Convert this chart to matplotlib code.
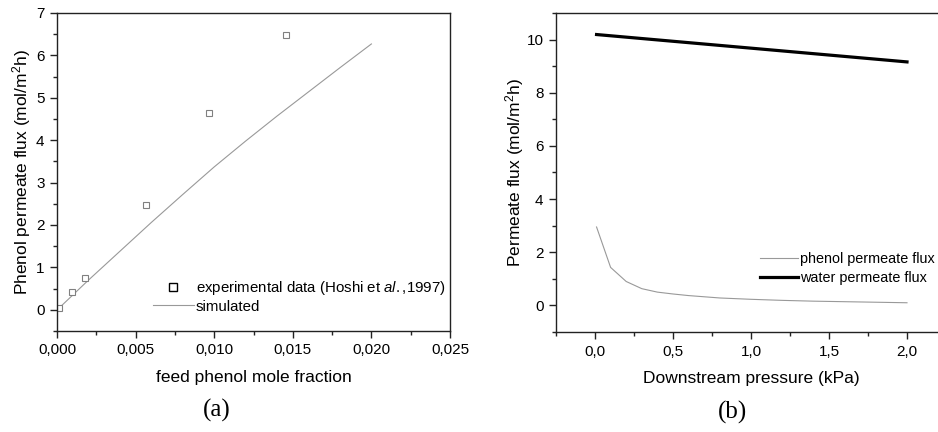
import matplotlib
matplotlib.use("Agg")
import matplotlib.pyplot as plt
from matplotlib.lines import Line2D
from matplotlib.ticker import MultipleLocator, FuncFormatter

# ---- data: panel (a)
exp_x = [0.00013, 0.00098, 0.00178, 0.00565, 0.00968, 0.01456]
exp_y = [0.05, 0.41, 0.75, 2.48, 4.65, 6.47]
sim_x = [0.0001, 0.002, 0.004, 0.006, 0.008, 0.010, 0.012, 0.014, 0.016, 0.018, 0.020]
sim_y = [0.03, 0.70, 1.38, 2.06, 2.72, 3.37, 3.98, 4.57, 5.14, 5.71, 6.27]

# ---- data: panel (b)
p_x = [0.01, 0.1, 0.2, 0.3, 0.4, 0.5, 0.6, 0.8, 1.0, 1.2, 1.4, 1.6, 1.8, 2.0]
phenol_flux = [2.95, 1.43, 0.90, 0.63, 0.50, 0.43, 0.37, 0.28, 0.23, 0.19, 0.16, 0.14, 0.12, 0.10]
water_x = [0.01, 2.0]
water_flux = [10.19, 9.16]

plt.rcParams['font.family'] = ['Liberation Sans', 'DejaVu Sans']
plt.rcParams['mathtext.fontset'] = 'custom'
plt.rcParams['mathtext.rm'] = 'Liberation Sans'
plt.rcParams['mathtext.it'] = 'Liberation Sans:italic'

W, H = 938, 432
fig = plt.figure(figsize=(W / 100, H / 100), dpi=100)

def box(l, r, t, b):
    return [l / W, 1 - b / H, (r - l) / W, (b - t) / H]

spine_c = '#222222'
tick_fs = 11
label_fs = 12.5
leg_fs = 10.8

def style(ax):
    for s in ax.spines.values():
        s.set_linewidth(1.0)
        s.set_color(spine_c)
    ax.tick_params(which='both', direction='out', top=False, right=False,
                   color=spine_c, labelsize=tick_fs, width=1.0)
    ax.tick_params(which='major', length=5, pad=4)
    ax.tick_params(which='minor', length=3)

comma = lambda fmt: FuncFormatter(lambda v, p: (fmt % v).replace('.', ','))

# ---- panel (a)
ax1 = fig.add_axes(box(57, 450, 13, 331))
ax1.plot(sim_x, sim_y, color='#999999', lw=0.8)
ax1.plot(exp_x, exp_y, ls='none', marker='s', ms=4.2, mfc='white',
         mec='#808080', mew=0.8)
ax1.set_xlim(0, 0.025)
ax1.set_ylim(-0.5, 7)
ax1.xaxis.set_major_locator(MultipleLocator(0.005))
ax1.xaxis.set_minor_locator(MultipleLocator(0.0025))
ax1.yaxis.set_major_locator(MultipleLocator(1))
ax1.yaxis.set_minor_locator(MultipleLocator(0.5))
ax1.xaxis.set_major_formatter(comma('%.3f'))
ax1.yaxis.set_major_formatter(FuncFormatter(lambda v, p: '%d' % round(v)))
style(ax1)
ax1.set_xlabel('feed phenol mole fraction', fontsize=label_fs, labelpad=9)
ax1.set_ylabel('Phenol permeate flux (mol/m$^2$h)', fontsize=label_fs, labelpad=2)

h1 = [Line2D([], [], ls='none', marker='s', ms=6, mfc='white', mec='black', mew=1.0),
      Line2D([], [], color='#999999', lw=0.8)]
ax1.legend(h1, ['experimental data (Hoshi et $\\mathit{al.}$,1997)', 'simulated'],
           loc='upper left', bbox_to_anchor=(153 / W, 1 - 279 / H),
           bbox_transform=fig.transFigure, frameon=False, fontsize=leg_fs,
           handlelength=2.7, handletextpad=0.15, labelspacing=0.18,
           borderpad=0, borderaxespad=0)

# ---- panel (b)
ax2 = fig.add_axes(box(556, 946, 13, 332))
ax2.plot(p_x, phenol_flux, color='#999999', lw=0.8, label='phenol permeate flux')
ax2.plot(water_x, water_flux, color='black', lw=2.3, label='water permeate flux')
ax2.set_xlim(-0.25, 2.25)
ax2.set_ylim(-1, 11)
ax2.xaxis.set_major_locator(MultipleLocator(0.5))
ax2.xaxis.set_minor_locator(MultipleLocator(0.25))
ax2.yaxis.set_major_locator(MultipleLocator(2))
ax2.yaxis.set_minor_locator(MultipleLocator(1))
ax2.xaxis.set_major_formatter(comma('%.1f'))
ax2.yaxis.set_major_formatter(FuncFormatter(lambda v, p: '%d' % round(v)))
style(ax2)
ax2.set_xlabel('Downstream pressure (kPa)', fontsize=label_fs, labelpad=9)
ax2.set_ylabel('Permeate flux (mol/m$^2$h)', fontsize=label_fs, labelpad=0)
ax2.legend(loc='upper left', bbox_to_anchor=(760 / W, 1 - 252 / H),
           bbox_transform=fig.transFigure, frameon=False, fontsize=10.4,
           handlelength=2.6, handletextpad=0.2, labelspacing=0.35,
           borderpad=0, borderaxespad=0)

# ---- panel captions
fig.text(217 / W, 1 - 410 / H, '(a)', family='Liberation Serif', fontsize=18,
         ha='center', va='center')
fig.text(732 / W, 1 - 412 / H, '(b)', family='Liberation Serif', fontsize=18,
         ha='center', va='center')

fig.savefig('out.png', dpi=100)
